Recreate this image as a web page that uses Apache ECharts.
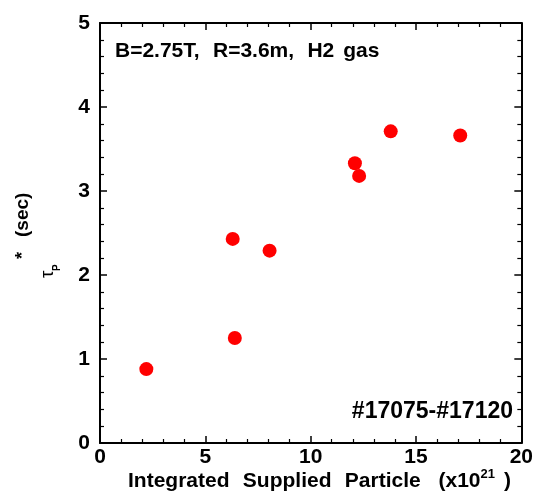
<!DOCTYPE html>
<html>
<head>
<meta charset="utf-8">
<script src="https://cdn.jsdelivr.net/npm/echarts@6/dist/echarts.min.js"></script>
<style>
  html, body { margin: 0; padding: 0; background: #fff; }
  #chart { width: 539px; height: 493px; }
</style>
</head>
<body>
<div id="chart"></div>
<script>
// supplied particle (x10^21) vs tau_p* (sec)
const particle = [2.2, 6.4, 6.3, 8.05, 12.1, 12.3, 13.8, 17.1]
const tauP = [0.88, 1.25, 2.43, 2.29, 3.33, 3.18, 3.71, 3.66]
const xTicks = [0, 5, 10, 15, 20]
const yTicks = [0, 1, 2, 3, 4, 5]

const points = particle.map((v, i) => [v, tauP[i]])
const font = 'Liberation Sans, Arial, sans-serif'

const chart = echarts.init(document.getElementById('chart'))

const line = () => ({ show: true, onZero: false, lineStyle: { color: '#000', width: 2 } })
const tick = () => ({ show: true, inside: true, length: 7, lineStyle: { color: '#000', width: 1.5 } })
const minor = () => ({ show: true, splitNumber: 5, length: 4, lineStyle: { color: '#000', width: 1.2 } })
const label = (margin) => ({ color: '#000', fontFamily: font, fontWeight: 'bold', fontSize: 21, margin: margin })
// mirror axes keep labels, just invisible
const hidden = () => ({ color: 'rgba(0,0,0,0)' })

// word gap style for the wide spaced texts
const gap = { font: 'bold 16px ' + font }

chart.setOption({
  animation: false,
  grid: { left: 100, right: 16, top: 23, bottom: 50 },
  xAxis: [
    { type: 'value', min: xTicks[0], max: xTicks[xTicks.length - 1], interval: 5, position: 'bottom',
      axisLine: line(), axisTick: tick(), minorTick: minor(), splitLine: { show: false },
      axisLabel: label(4) },
    { type: 'value', min: xTicks[0], max: xTicks[xTicks.length - 1], interval: 5, position: 'top',
      axisLine: line(), axisTick: tick(), minorTick: minor(), splitLine: { show: false },
      axisLabel: hidden() }
  ],
  yAxis: [
    { type: 'value', min: yTicks[0], max: yTicks[yTicks.length - 1], interval: 1, position: 'left',
      axisLine: line(), axisTick: tick(), minorTick: minor(), splitLine: { show: false },
      axisLabel: label(10) },
    { type: 'value', min: yTicks[0], max: yTicks[yTicks.length - 1], interval: 1, position: 'right',
      axisLine: line(), axisTick: tick(), minorTick: minor(), splitLine: { show: false },
      axisLabel: hidden() }
  ],
  series: [{
    type: 'scatter',
    data: points,
    symbolSize: 14,
    itemStyle: { color: '#ff0000', opacity: 1 }
  }],
  graphic: [
    {
      type: 'text', left: 115, top: 41,
      style: {
        text: '{m|B=2.75T,}{w|   }{m|R=3.6m,}{w|   }{m|H2}{w|  }{m|gas}',
        rich: { m: { font: 'bold 21px ' + font, fill: '#000' }, w: gap }
      }
    },
    {
      type: 'text', right: 26, top: 400,
      style: { text: '#17075-#17120', font: 'bold 23px ' + font, fill: '#000' }
    },
    // x axis name with superscript
    {
      type: 'text', left: 128, top: 468,
      style: {
        text: '{m|Integrated}{w|   }{m|Supplied}{w|   }{m|Particle}{w|    }{m|(x10}{s|21}{w|  }{m|)}',
        rich: {
          m: { font: 'bold 21px ' + font, fill: '#000', verticalAlign: 'bottom', lineHeight: 24 },
          w: { font: 'bold 16px ' + font, verticalAlign: 'bottom', lineHeight: 24 },
          s: { font: 'bold 13px ' + font, fill: '#000', verticalAlign: 'top', lineHeight: 24 }
        }
      }
    },
    // y axis name: tau_P^* (sec), rotated
    {
      type: 'text', x: 38, y: 278, rotation: Math.PI / 2,
      style: { text: 'τ', font: '19px ' + font, fill: '#000' }
    },
    {
      type: 'text', x: 52, y: 271, rotation: Math.PI / 2,
      style: { text: 'P', font: 'bold 10px ' + font, fill: '#000' }
    },
    {
      type: 'text', x: 14, y: 259, rotation: Math.PI / 2,
      style: { text: '*', font: 'bold 18px ' + font, fill: '#000' }
    },
    {
      type: 'text', x: 13, y: 237, rotation: Math.PI / 2,
      style: { text: '(sec)', font: 'bold 19px ' + font, fill: '#000' }
    }
  ]
})
</script>
</body>
</html>
